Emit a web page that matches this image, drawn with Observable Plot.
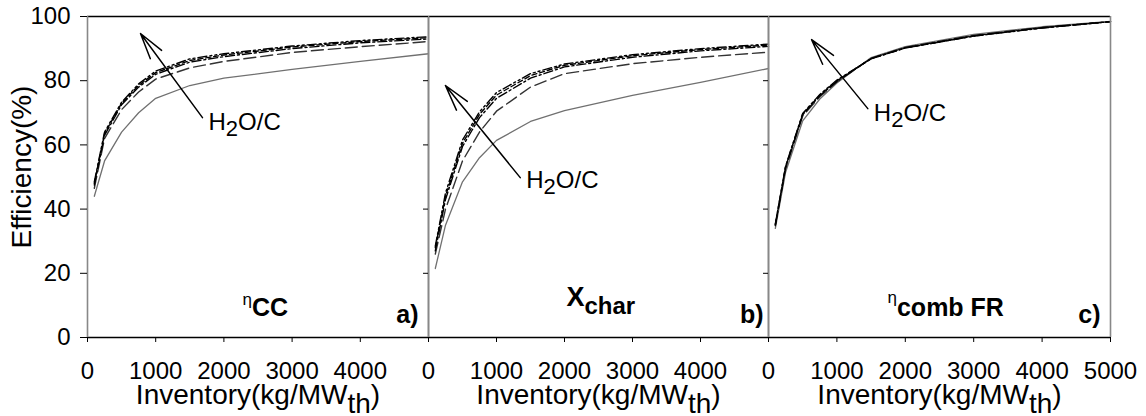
<!DOCTYPE html>
<html>
<head>
<meta charset="utf-8">
<script src="https://cdn.jsdelivr.net/npm/d3@7"></script>
<script src="https://cdn.jsdelivr.net/npm/@observablehq/plot@0.6"></script>
<style>
  html, body { margin: 0; padding: 0; background: white; }
  #wrap { position: relative; width: 1146px; height: 416px; overflow: hidden; font-family: "Liberation Sans", Arial, sans-serif; }
  #wrap svg { position: absolute; top: 0; }
</style>
</head>
<body>
<div id="wrap"></div>
<script>
// ---------- data ----------
const inventory = [100, 250, 500, 750, 1000, 1500, 2000, 3000, 4000, 5000];

// panel a) eta_CC, five H2O/C ratios (lowest first)
const etaCC_1 = [44, 55, 64, 70, 74.5, 78.5, 80.8, 83.5, 86, 88.4];
const etaCC_2 = [46.5, 62, 71, 76.5, 80.5, 84, 86, 88.8, 90.6, 92.2];
const etaCC_3 = [47.5, 63, 72.5, 78, 82, 85.8, 87.5, 90, 91.8, 93];
const etaCC_4 = [48, 63.5, 73, 78.5, 82.5, 86.3, 88, 90.5, 92.2, 93.4];
const etaCC_5 = [48.5, 64, 73.3, 79, 83, 86.8, 88.4, 90.8, 92.5, 93.7];

// panel b) X_char
const xChar_1 = [21.5, 35, 48.5, 56, 61.4, 67.3, 70.7, 75.4, 79.5, 83.8];
const xChar_2 = [26, 40, 55, 64, 70.5, 78, 82.2, 85.3, 87.3, 88.9];
const xChar_3 = [27, 43, 59.5, 68.5, 74.5, 80.8, 84.3, 87.3, 89.3, 90.7];
const xChar_4 = [28, 44, 60.5, 69.5, 75.5, 81.6, 84.8, 87.8, 89.7, 91.1];
const xChar_5 = [28.5, 45, 61.5, 70.3, 76.3, 82.2, 85.2, 88.1, 90, 91.4];

// panel c) eta_comb FR
const etaComb_1 = [34, 51.5, 67.5, 74.3, 79.3, 87.2, 90.6, 94.4, 96.8, 98.5];
const etaComb_2 = [34.8, 52.5, 69, 75, 79.6, 87, 90.4, 94.1, 96.6, 98.4];
const etaComb_3 = [35, 53, 69.4, 75.3, 79.8, 86.9, 90.3, 94, 96.5, 98.4];
const etaComb_4 = [35.2, 53.2, 69.6, 75.5, 80, 86.9, 90.2, 93.9, 96.5, 98.4];
const etaComb_5 = [35.4, 53.4, 69.8, 75.7, 80.2, 86.8, 90.2, 93.9, 96.4, 98.4];

const xTicks = [0, 1000, 2000, 3000, 4000, 5000];
const yTicks = [0, 20, 40, 60, 80, 100];
const panelLetters = ["a)", "b)", "c)"];
const panelTitles = ["ηCC", "Xchar", "ηcomb FR"];
const xTitle = "Inventory(kg/MWth)";
const yTitle = "Efficiency(%)";
const annoText = "H2O/C";
// annotation arrows (tail -> head) and label anchors, in data units
const arrowX1 = [1686, 1349, 1452];
const arrowY1 = [68.5, 49.8, 71.3];
const arrowX2 = [777, 249, 630];
const arrowY2 = [94.7, 78.5, 92.8];
const labelX = [1774, 1437, 1540];
const labelY = [64.5, 46.7, 67.6];

// ---------- styles ----------
const seriesStyles = [
  {stroke: "#707070", strokeWidth: 1.3, strokeDasharray: null},
  {stroke: "#333", strokeWidth: 1.4, strokeDasharray: "12,5"},
  {stroke: "#000", strokeWidth: 1.4, strokeDasharray: "9,3,2,3"},
  {stroke: "#000", strokeWidth: 1.4, strokeDasharray: "5,3"},
  {stroke: "#000", strokeWidth: 1.4, strokeDasharray: "9,3,2,3,2,3"}
];

const panels = [
  {series: [etaCC_1, etaCC_2, etaCC_3, etaCC_4, etaCC_5], left: 0, ml: 87, mr: 20, w: 341, ticksize: 7, showYLabels: true, show5000: false, letterDx: -10, titleDx: 155, titleDy: -33},
  {series: [xChar_1, xChar_2, xChar_3, xChar_4, xChar_5], left: 408, ml: 20, mr: 20, w: 340, ticksize: 5, showYLabels: false, show5000: false, letterDx: -5, titleDx: 138, titleDy: -32},
  {series: [etaComb_1, etaComb_2, etaComb_3, etaComb_4, etaComb_5], left: 748, ml: 20, mr: 36, w: 342, ticksize: 5, showYLabels: false, show5000: true, letterDx: -10, titleDx: 119, titleDy: -35}
];

const richMap = {
  "H2O/C": [{t: "H"}, {t: "2", dy: 6, size: 22}, {t: "O/C", dy: -6}],
  "Inventory(kg/MWth)": [{t: "Inventory(kg/MW"}, {t: "th", dy: 9}, {t: ")", dy: -9}],
  "ηCC": [{t: "η", size: 17}, {t: "CC", size: 25, weight: "bold", dy: 11}],
  "Xchar": [{t: "X", size: 27, weight: "bold"}, {t: "char", size: 24, weight: "bold", dy: 8}],
  "ηcomb FR": [{t: "η", size: 17}, {t: "comb FR", size: 25, weight: "bold", dy: 13}]
};

function richify(svg) {
  svg.querySelectorAll("text").forEach(t => {
    const segs = richMap[t.textContent];
    if (!segs) return;
    t.textContent = "";
    for (const s of segs) {
      const ts = document.createElementNS("http://www.w3.org/2000/svg", "tspan");
      ts.textContent = s.t;
      if (s.dy) ts.setAttribute("dy", s.dy);
      if (s.size) ts.setAttribute("font-size", s.size);
      if (s.weight) ts.setAttribute("font-weight", s.weight);
      ts.style.whiteSpace = "pre";
      t.appendChild(ts);
    }
  });
  // center the rotated y title on its anchor
  svg.querySelectorAll("text").forEach(t => {
    if (t.textContent === yTitle) {
      t.setAttribute("text-anchor", "middle");
      t.style.textAnchor = "middle";
    }
  });
}

const wrap = document.getElementById("wrap");
const H = 416, MT = 16, MB = 79;

panels.forEach((p, k) => {
  const lineMarks = p.series.map((vals, s) =>
    Plot.line(inventory.map((x, i) => ({x, y: vals[i]})), {x: "x", y: "y", ...seriesStyles[s], strokeLinejoin: "round"})
  );
  const marks = [
    ...lineMarks,
    Plot.ruleY([0, 100], {stroke: "#000", strokeWidth: 1.3}),
    Plot.ruleX([0, 5000], {stroke: "#888", strokeWidth: 1.6}),
    Plot.axisY({ticks: yTicks, tickSize: p.ticksize, tickPadding: 10, fontSize: 24, label: null,
      tickFormat: p.showYLabels ? (d => String(d)) : (() => "")}),
    Plot.axisX({ticks: xTicks, tickSize: 5, tickPadding: 19, fontSize: 24, label: null,
      tickFormat: d => (!p.show5000 && d === 5000) ? "" : String(d)}),
    Plot.text([xTitle], {text: d => d, frameAnchor: "bottom", lineAnchor: "bottom", dy: 66, fontSize: 28}),
    Plot.text([panelLetters[k]], {text: d => d, frameAnchor: "bottom-right", textAnchor: "end", lineAnchor: "bottom", dx: p.letterDx, dy: -15, fontSize: 25, fontWeight: "bold"}),
    Plot.text([panelTitles[k]], {text: d => d, frameAnchor: "bottom-left", textAnchor: "start", lineAnchor: "bottom", dx: p.titleDx, dy: p.titleDy, fontSize: 15}),
    Plot.arrow([k], {x1: i => arrowX1[i], y1: i => arrowY1[i], x2: i => arrowX2[i], y2: i => arrowY2[i], headAngle: 30, headLength: 27, strokeWidth: 1.5, stroke: "#000"}),
    Plot.text([k], {x: i => labelX[i], y: i => labelY[i], text: () => annoText, textAnchor: "start", lineAnchor: "bottom", fontSize: 24})
  ];
  if (k === 0) {
    marks.push(Plot.text([yTitle], {text: d => d, frameAnchor: "left", rotate: -90, textAnchor: "middle", lineAnchor: "middle", dx: -65, dy: -10, fontSize: 28}));
  }
  const chart = Plot.plot({
    width: p.ml + p.w + p.mr,
    height: H,
    marginLeft: p.ml,
    marginRight: p.mr,
    marginTop: MT,
    marginBottom: MB,
    x: {domain: [0, 5000], axis: null},
    y: {domain: [0, 100], axis: null},
    style: {background: "transparent", overflow: "visible", fontFamily: "Liberation Sans, Arial, sans-serif", fontSize: "24px", color: "#000"},
    marks
  });
  richify(chart);
  chart.style.left = p.left + "px";
  wrap.appendChild(chart);
});
</script>
</body>
</html>
